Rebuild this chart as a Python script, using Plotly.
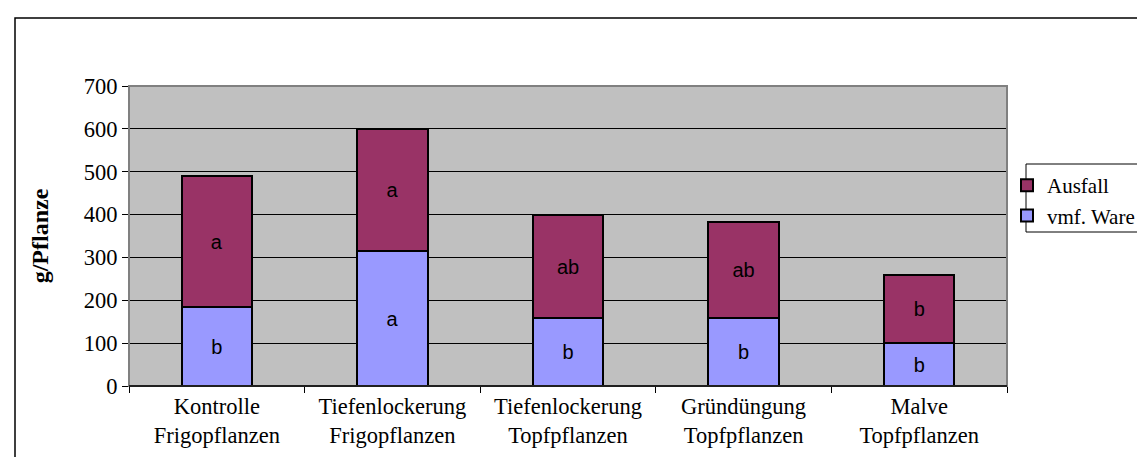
import plotly.graph_objects as go

categories = ["Kontrolle<br>Frigopflanzen", "Tiefenlockerung<br>Frigopflanzen",
              "Tiefenlockerung<br>Topfpflanzen", "Gründüngung<br>Topfpflanzen",
              "Malve<br>Topfpflanzen"]
vmf_ware = [184, 314, 159, 158, 100]
ausfall = [305, 285, 239, 225, 160]
vmf_letters = ["b", "a", "b", "b", "b"]
ausfall_letters = ["a", "a", "ab", "ab", "b"]
y_ticks = [0, 100, 200, 300, 400, 500, 600, 700]

serif = "Liberation Serif, Times New Roman, serif"
sans = "Liberation Sans, Arial, sans-serif"

fig = go.Figure()
fig.add_trace(go.Bar(
    x=categories, y=vmf_ware, name="vmf. Ware",
    marker=dict(color="#9999FF", line=dict(color="black", width=2)),
    text=vmf_letters, textposition="inside", insidetextanchor="middle",
    textangle=0, textfont=dict(family=sans, size=20, color="black"),
    hoverinfo="skip",
))
fig.add_trace(go.Bar(
    x=categories, y=ausfall, name="Ausfall",
    marker=dict(color="#993366", line=dict(color="black", width=2)),
    text=ausfall_letters, textposition="inside", insidetextanchor="middle",
    textangle=0, textfont=dict(family=sans, size=20, color="black"),
    hoverinfo="skip",
))

W, H = 1145, 457
L, R, T, B = 121, 146, 78, 79
pw, ph = W - L - R, H - T - B

def px_x(p):
    return (p - L) / pw

def px_y(p):
    return (H - B - p) / ph

fig.update_layout(
    width=W, height=H,
    margin=dict(l=L, r=R, t=T, b=B, autoexpand=False),
    barmode="stack", bargap=0.6,
    paper_bgcolor="white", plot_bgcolor="#C0C0C0",
    showlegend=True,
    legend=dict(x=px_x(999), y=px_y(157), xanchor="left", yanchor="top",
                bgcolor="rgba(0,0,0,0)", borderwidth=0, traceorder="reversed",
                font=dict(family=serif, size=21, color="black")),
    font=dict(family=serif, color="black"),
    xaxis=dict(
        showline=True, linecolor="black", linewidth=1,
        ticks="outside", tickson="boundaries", ticklen=6, tickcolor="black",
        tickfont=dict(family=serif, size=22.5, color="black"),
        showgrid=False, automargin=False,
    ),
    yaxis=dict(
        range=[0, 700], tickvals=y_ticks, showline=True, linecolor="#808080",
        linewidth=1, ticks="outside", ticklen=6, tickcolor="black",
        tickfont=dict(family=serif, size=22.5, color="black"),
        showgrid=True, gridcolor="black", gridwidth=1, zeroline=False,
        automargin=False,
        title=dict(text="<b>g/Pflanze</b>", standoff=28,
                   font=dict(family=serif, size=24, color="black")),
    ),
    shapes=[
        dict(type="rect", xref="paper", yref="paper", x0=0, x1=1, y0=0, y1=1,
             line=dict(color="#808080", width=2), fillcolor="rgba(0,0,0,0)",
             layer="above"),
        dict(type="line", xref="paper", yref="paper", x0=0, x1=1, y0=0, y1=0,
             line=dict(color="black", width=1.5), layer="above"),
        dict(type="rect", xref="paper", yref="paper",
             x0=px_x(7), x1=px_x(1160), y0=px_y(470), y1=px_y(10),
             line=dict(color="black", width=1.5), fillcolor="rgba(0,0,0,0)"),
        dict(type="rect", xref="paper", yref="paper",
             x0=px_x(1018), x1=px_x(1143), y0=px_y(224), y1=px_y(156),
             line=dict(color="black", width=1), fillcolor="white",
             layer="below"),
    ],
)

fig.write_html("out.html")
